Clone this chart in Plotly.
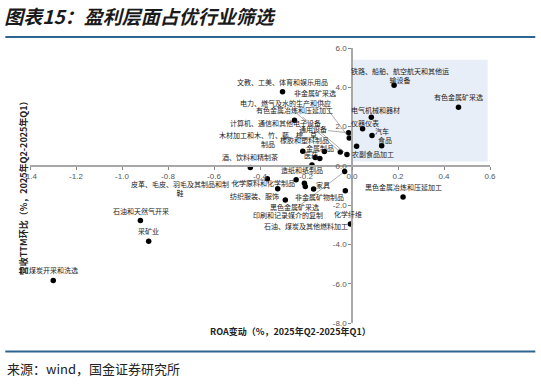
import plotly.graph_objects as go

# ---------------- data ----------------
industries = [
    "煤炭开采和洗选", "石油和天然气开采", "采矿业", "有色金属矿采选",
    "铁路、船舶、航空航天和其他运<br>输设备", "电气机械和器材", "仪器仪表", "汽车", "食品",
    "农副食品加工", "文教、工美、体育和娱乐用品", "计算机、通信和其他电子设备", "通用设备",
    "非金属矿采选", "电力、燃气及水的生产和供应", "有色金属冶炼和压延加工",
    "木材加工和木、竹、藤、棕、草<br>制品", "橡胶和塑料制品", "医药", "金属制品",
    "酒、饮料和精制茶", "造纸和纸制品", "印刷和记录媒介的复制", "皮革、毛皮、羽毛及其制品和制<br>鞋",
    "化学原料和化学制品", "纺织业", "非金属矿物制品", "家具", "纺织服装、服饰",
    "黑色金属矿采选", "化学纤维", "石油、煤炭及其他燃料加工", "黑色金属冶炼和压延加工",
]
roa_change = [
    -1.299, -0.920, -0.884, 0.463,
    0.183, 0.084, 0.046, 0.087, 0.129,
    0.020, -0.302, -0.250, -0.015,
    -0.012, -0.051, -0.022,
    -0.214, -0.160, -0.140, -0.120,
    -0.442, -0.174, -0.032, -0.368,
    -0.243, -0.207, -0.203, -0.167, -0.323,
    -0.290, -0.029, -0.007, 0.222,
]
revenue_ttm = [
    -5.84, -2.78, -3.84, 2.98,
    4.11, 2.47, 1.89, 1.54, 1.03,
    1.00, 3.77, 2.32, 1.68,
    1.42, 0.70, 0.58,
    0.74, 0.43, 0.37, 0.73,
    -0.08, 0.04, -0.29, -0.66,
    -0.71, -0.88, -1.05, -1.18, -1.17,
    -1.74, -1.27, -2.96, -1.59,
]
x_ticks = [-1.4, -1.2, -1.0, -0.8, -0.6, -0.4, -0.2, 0.0, 0.2, 0.4, 0.6]
y_ticks = [-8.0, -6.0, -4.0, -2.0, 0.0, 2.0, 4.0, 6.0]

# label offsets in pixels (text centre relative to point); None = no label
label_offsets = [
    (0, -11), (1, -9), (0, -10), (0, -10),
    (6, -10), (4, -7), (2, -6), (10, -5), (3, -6),
    (16, 8), (0, -10), (-19, 3), (-36, -4),
    (-34, -45), (-55, -49), (-52, -44),
    (-35, -12), (-11, -17), (-9, -4), (-4, -4),
    (0, -10), (-10, 5), (-57, 43), (-87, 10),
    (-33, 3), None, (14, 11), (9, -4), (-23, 7),
    (9, 7), (3, 23), (-44, 2), (0, -10),
]
leaders = {"通用设备", "非金属矿采选", "电力、燃气及水的生产和供应", "有色金属冶炼和压延加工",
           "印刷和记录媒介的复制", "皮革、毛皮、羽毛及其制品和制<br>鞋"}

CJK = "Noto Sans CJK SC"

fig = go.Figure()
fig.add_trace(go.Scatter(
    x=roa_change, y=revenue_ttm, mode="markers",
    marker=dict(color="black", size=5.5),
    hoverinfo="skip", showlegend=False,
))

annotations = []
for name, xv, yv, off in zip(industries, roa_change, revenue_ttm, label_offsets):
    if off is None:
        continue
    lead = name in leaders
    annotations.append(dict(
        x=xv, y=yv, xref="x", yref="y", text=name,
        showarrow=True, ax=off[0], ay=off[1],
        arrowhead=0, arrowwidth=0.7, standoff=2,
        arrowcolor="#8a8a8a" if lead else "rgba(0,0,0,0)",
        font=dict(family=CJK, size=7, color="#222"),
    ))

# axis titles, source
annotations.append(dict(
    x=0.566, y=-0.063, xref="paper", yref="paper", showarrow=False,
    text="<b>ROA变动（%，2025年Q2-2025年Q1）</b>",
    font=dict(family=CJK, size=9, color="#222"),
))
annotations.append(dict(
    x=-0.032, y=0.50, xref="paper", yref="paper", showarrow=False, textangle=-90,
    text="<b>营收TTM环比（%，2025年Q2-2025年Q1）</b>",
    font=dict(family=CJK, size=9, color="#222"),
))
annotations.append(dict(
    x=-0.0537, y=-0.166, xref="paper", yref="paper", showarrow=False,
    xanchor="left", yanchor="middle",
    text="来源：wind，国金证券研究所",
    font=dict(family=CJK, size=13, color="#222"),
))

shapes = [
    dict(type="rect", xref="x", yref="y", x0=0, x1=0.59, y0=0.22, y1=5.4,
         fillcolor="#e8eef8", line=dict(width=0), layer="below"),
    dict(type="line", xref="paper", yref="paper", x0=-0.0537, x1=1.0985, y0=1.04, y1=1.04,
         line=dict(color="#2c6590", width=2)),
    dict(type="line", xref="paper", yref="paper", x0=-0.0537, x1=1.0985, y0=-0.104, y1=-0.104,
         line=dict(color="#2c6590", width=2)),
]

fig.update_layout(
    width=541, height=385,
    margin=dict(l=30, r=51, t=48, b=62),
    paper_bgcolor="white", plot_bgcolor="white",
    title=dict(
        text="图表15：盈利层面占优行业筛选",
        x=0.008, xanchor="left", y=0.956, yanchor="middle",
        xref="container", yref="container",
        font=dict(family=CJK, size=19, color="#1a1a1a", weight="bold", style="italic"),
    ),
    xaxis=dict(
        range=[-1.4, 0.6], anchor="free", position=8 / 14, automargin=False,
        tickvals=x_ticks, ticktext=[f"{v:.1f}" for v in x_ticks],
        showline=True, linecolor="#a8a8a8", linewidth=2,
        ticks="outside", ticklen=3, tickcolor="#888",
        tickfont=dict(family="Liberation Sans", size=8, color="#555"),
        showgrid=False, zeroline=False,
    ),
    yaxis=dict(
        range=[-8, 6], anchor="free", position=0.7, automargin=False,
        tickvals=y_ticks, ticktext=[f"{v:.1f}" for v in y_ticks],
        showline=True, linecolor="#a8a8a8", linewidth=1.5,
        ticks="outside", ticklen=3, tickcolor="#888",
        tickfont=dict(family="Liberation Sans", size=8, color="#555"),
        showgrid=False, zeroline=False,
    ),
    annotations=annotations,
    shapes=shapes,
)

fig.write_html(
    "out.html",
    config={"displayModeBar": False},
    post_script="document.body.style.margin='0';document.body.style.padding='0';",
)
